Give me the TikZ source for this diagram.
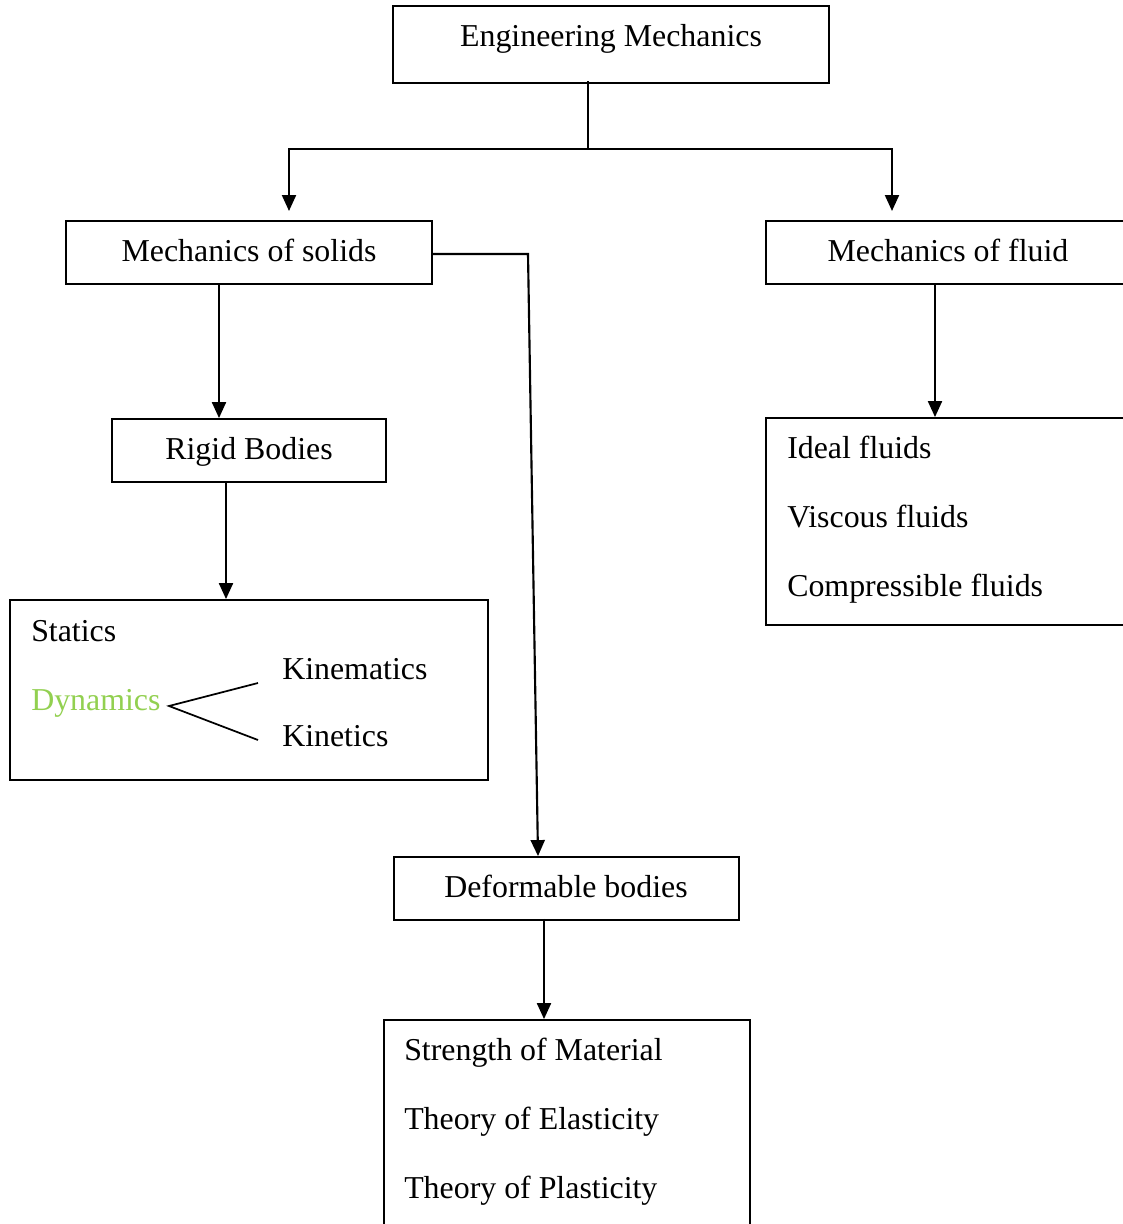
\documentclass[tikz,border=0pt]{standalone}
\usepackage{fontspec}
\setmainfont{Liberation Serif}
\usepackage{tikz}
\usetikzlibrary{arrows.meta,fit}
\definecolor{dyngreen}{HTML}{92D050}

\begin{document}
\begin{tikzpicture}[x=0.75pt,y=0.75pt,yscale=-1,xscale=1,
  box/.style={draw,line width=1.4pt,inner sep=0pt},
  txt/.style={inner sep=0pt,font=\fontsize{23.9}{28}\selectfont},
  arr/.style={line width=1.6pt,-{Triangle[width=10.5pt,length=12pt]}},
  plain/.style={line width=1.6pt}]
%set diagram size to 1123 x 1224
\path[use as bounding box,fill=white] (0,0) rectangle (1123,1224);

%Boxes
\node[box,fit={(393,6) (829,83)}] (em) {};
\node[box,fit={(66,221) (432,284)}] (sol) {};
\node[box,fit={(766,221) (1140,284)}] (flu) {};
\node[box,fit={(112,419) (386,482)}] (rig) {};
\node[box,fit={(10,600) (488,780)}] (stat) {};
\node[box,fit={(766,418) (1140,625)}] (ideal) {};
\node[box,fit={(394,857) (739,920)}] (def) {};
\node[box,fit={(384,1020) (750,1240)}] (str) {};

% Text Node
\node[txt,anchor=base] (emtext) at (611,46) {Engineering Mechanics};
% Text Node
\node[txt,anchor=base] (soltext) at (249,261) {Mechanics of solids};
% Text Node
\node[txt,anchor=base] (flutext) at (948,261) {Mechanics of fluid};
% Text Node
\node[txt,anchor=base] (rigtext) at (249,459) {Rigid Bodies};
% Text Node
\node[txt,anchor=base] (deftext) at (566,897) {Deformable bodies};
% Text Node
\node[txt,anchor=base west] (statics) at (31,641) {Statics};
\node[txt,anchor=base west,text=dyngreen] (dynamics) at (31,710) {Dynamics};
\node[txt,anchor=base west] (kinem) at (282,679) {Kinematics};
\node[txt,anchor=base west] (kinet) at (282,746) {Kinetics};
% Text Node
\node[txt,anchor=base west] (idealf) at (787,458) {Ideal fluids};
\node[txt,anchor=base west] (viscf) at (787,527) {Viscous fluids};
\node[txt,anchor=base west] (compf) at (787,596) {Compressible fluids};
% Text Node
\node[txt,anchor=base west] (strm) at (404,1060) {Strength of Material};
\node[txt,anchor=base west] (elas) at (404,1129) {Theory of Elasticity};
\node[txt,anchor=base west] (plas) at (404,1198) {Theory of Plasticity};

%Connectors
\coordinate (split) at (588,149);
\coordinate (soltip) at (289,211);
\coordinate (flutip) at (892,211);
\coordinate (bend) at (528,254);
\draw[plain] ([yshift=-2.2pt]em.south -| split) -- (split);
\draw[arr] (split) -| (soltip);
\draw[arr] (split) -| (flutip);

\draw[arr] (sol.south -| 219,0) -- (rig.north -| 219,0);
\draw[arr] (rig.south -| 226,0) -- (stat.north -| 226,0);
\draw[arr] (flu.south -| 935,0) -- (ideal.north -| 935,0);
\draw[arr] (sol.east |- bend) -- (bend) -- (def.north -| 538,0);
\draw[arr] ([yshift=-1.5pt]def.south -| 544,0) -- (str.north -| 544,0);

%Dynamics fork
\coordinate (fork) at (169,706);
\coordinate (forkup) at (258,683);
\coordinate (forkdown) at (258,740);
\draw[line width=1.3pt] (forkup) -- (fork) -- (forkdown);

\end{tikzpicture}
\end{document}
